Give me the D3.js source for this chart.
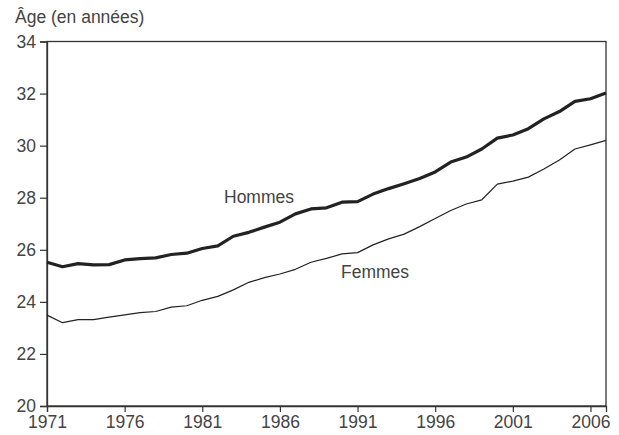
<!DOCTYPE html>
<html>
<head>
<meta charset="utf-8">
<script src="https://cdn.jsdelivr.net/npm/d3@7"></script>
<style>
  html, body { margin: 0; padding: 0; background: #fff; }
  text { font-family: "Liberation Sans", Arial, sans-serif; }
</style>
</head>
<body>
<svg id="chart" width="619" height="435"></svg>
<script>
const years = d3.range(1971, 2008);
const hommes = [25.52, 25.35, 25.47, 25.42, 25.43, 25.61, 25.66, 25.69, 25.82, 25.87,
                26.05, 26.15, 26.52, 26.67, 26.87, 27.06, 27.38, 27.57, 27.61, 27.83,
                27.85, 28.14, 28.35, 28.54, 28.74, 28.99, 29.37, 29.56, 29.87, 30.29,
                30.41, 30.65, 31.03, 31.31, 31.70, 31.80, 32.02];
const femmes = [23.49, 23.20, 23.32, 23.32, 23.41, 23.50, 23.59, 23.63, 23.80, 23.85,
                24.06, 24.21, 24.46, 24.75, 24.93, 25.07, 25.25, 25.52, 25.67, 25.84,
                25.89, 26.19, 26.42, 26.60, 26.89, 27.20, 27.51, 27.76, 27.92, 28.52,
                28.64, 28.79, 29.10, 29.45, 29.87, 30.03, 30.20];
const xTicks = [1971, 1976, 1981, 1986, 1991, 1996, 2001, 2006];
const yTicks = [20, 22, 24, 26, 28, 30, 32, 34];
const yTitle = "Âge (en années)";
const seriesLabels = ["Hommes", "Femmes"];

(function () {
const svg = d3.select("#chart");
const mLeft = 47, mRight = 606, mTop = 41.5, mBottom = 406;
const x = d3.scaleLinear().domain([1971, 2007]).range([mLeft, mRight]);
const y = d3.scaleLinear().domain([20, 34]).range([mBottom, mTop]);
const axisColor = "#333";
const textColor = "#444";
const fs = "17.5px";

svg.append("rect")
  .attr("x", mLeft).attr("y", mTop)
  .attr("width", mRight - mLeft).attr("height", mBottom - mTop)
  .attr("fill", "none").attr("stroke", axisColor).attr("stroke-width", 1.3);

const yAxis = svg.append("g").attr("transform", `translate(${mLeft},0)`)
  .call(d3.axisLeft(y).tickValues(yTicks).tickFormat(d3.format("d")).tickSize(7).tickPadding(4));
const xAxis = svg.append("g").attr("transform", `translate(0,${mBottom})`)
  .call(d3.axisBottom(x).tickValues(xTicks).tickFormat(d3.format("d")).tickSize(6).tickPadding(4));

[yAxis, xAxis].forEach(g => {
  g.select(".domain").attr("stroke", axisColor).attr("stroke-width", 1.3);
  g.selectAll(".tick line").attr("stroke", axisColor).attr("stroke-width", 1.2);
  g.selectAll(".tick text").attr("fill", textColor)
    .style("font-family", "'Liberation Sans', Arial, sans-serif").style("font-size", fs);
});

const line = d3.line().x((d, i) => x(years[i])).y(d => y(d));

svg.append("path").datum(femmes)
  .attr("d", line).attr("fill", "none").attr("stroke", "#222").attr("stroke-width", 1.2)
  .attr("stroke-linejoin", "round");
svg.append("path").datum(hommes)
  .attr("d", line).attr("fill", "none").attr("stroke", "#222").attr("stroke-width", 3.2)
  .attr("stroke-linejoin", "round");

svg.append("text").attr("x", 15).attr("y", 22.5)
  .attr("fill", textColor).style("font-size", fs).text(yTitle);

svg.append("text").attr("x", 224).attr("y", 203)
  .attr("fill", textColor).style("font-size", fs).text(seriesLabels[0]);
svg.append("text").attr("x", 341).attr("y", 278)
  .attr("fill", textColor).style("font-size", fs).text(seriesLabels[1]);
})();
</script>
</body>
</html>
